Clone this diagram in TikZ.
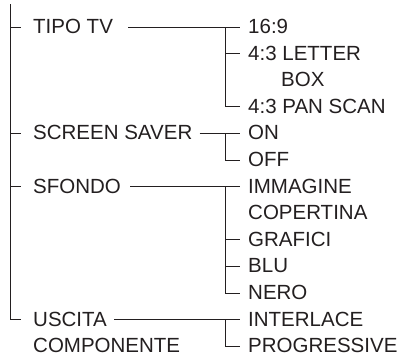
\documentclass[tikz,border=0pt]{standalone}
\usepackage{fontspec}
\setmainfont{Liberation Sans}
\definecolor{menuInk}{HTML}{231F20}

\begin{document}
\begin{tikzpicture}[
  x=1pt,y=-1pt,
  every node/.style={anchor=west,inner sep=0pt,text height=13pt,text depth=0pt,
                     font=\fontsize{20.5}{22}\selectfont,text=menuInk},
  link/.style={draw=menuInk,line width=0.9pt},
]
  \useasboundingbox (0,0) rectangle (403,356);

  \node (tipo)     at (33,27)    {TIPO TV};
  \node (screen)   at (33,133.4) {SCREEN SAVER};
  \node (sfondo)   at (33,186.6) {SFONDO};
  \node (uscita)   at (33,319.6) {USCITA};
  \node (componente) at (33,346.2) {COMPONENTE};

  \node (n169)     at (248,27)    {16:9};
  \node (letter)   at (248,53.6)  {4:3 LETTER};
  \node (box)      at (281,80.2)  {BOX};
  \node (pan)      at (248,106.8) {4:3 PAN SCAN};
  \node (on)       at (248,133.4) {ON};
  \node (off)      at (248,160)   {OFF};
  \node (immagine) at (248,186.6) {IMMAGINE};
  \node (copertina) at (248,213.2) {COPERTINA};
  \node (grafici)  at (248,239.8) {GRAFICI};
  \node (blu)      at (248,266.4) {BLU};
  \node (nero)     at (248,293)   {NERO};
  \node (interlace) at (248,319.6) {INTERLACE};
  \node (progressive) at (248,346.2) {PROGRESSIVE};

  \coordinate (root) at (10,4);
  \draw[link] (root) |- ([xshift=-12pt]uscita.west);
  \foreach \n in {tipo,screen,sfondo}
    \draw[link] (root |- \n.west) -- ([xshift=-12pt]\n.west);

  \draw[link] ([xshift=15pt]tipo.east) -- ([xshift=-8pt]n169.west);
  \draw[link] ([xshift=-23pt]n169.west) |- ([xshift=-8pt]pan.west);
  \draw[link] ([xshift=-23pt]letter.west) -- ([xshift=-8pt]letter.west);

  \draw[link] ([xshift=7pt]screen.east) -- ([xshift=-8pt]on.west);
  \draw[link] ([xshift=-23pt]on.west) |- ([xshift=-8pt]off.west);

  \draw[link] ([xshift=9pt]sfondo.east) -- ([xshift=-8pt]immagine.west);
  \draw[link] ([xshift=-23pt]immagine.west) |- ([xshift=-8pt]nero.west);
  \foreach \n in {grafici,blu}
    \draw[link] ([xshift=-23pt]\n.west) -- ([xshift=-8pt]\n.west);

  \draw[link] ([xshift=7pt]uscita.east) -- ([xshift=-8pt]interlace.west);
  \draw[link] ([xshift=-23pt]interlace.west) |- ([xshift=-8pt]progressive.west);
\end{tikzpicture}
\end{document}
